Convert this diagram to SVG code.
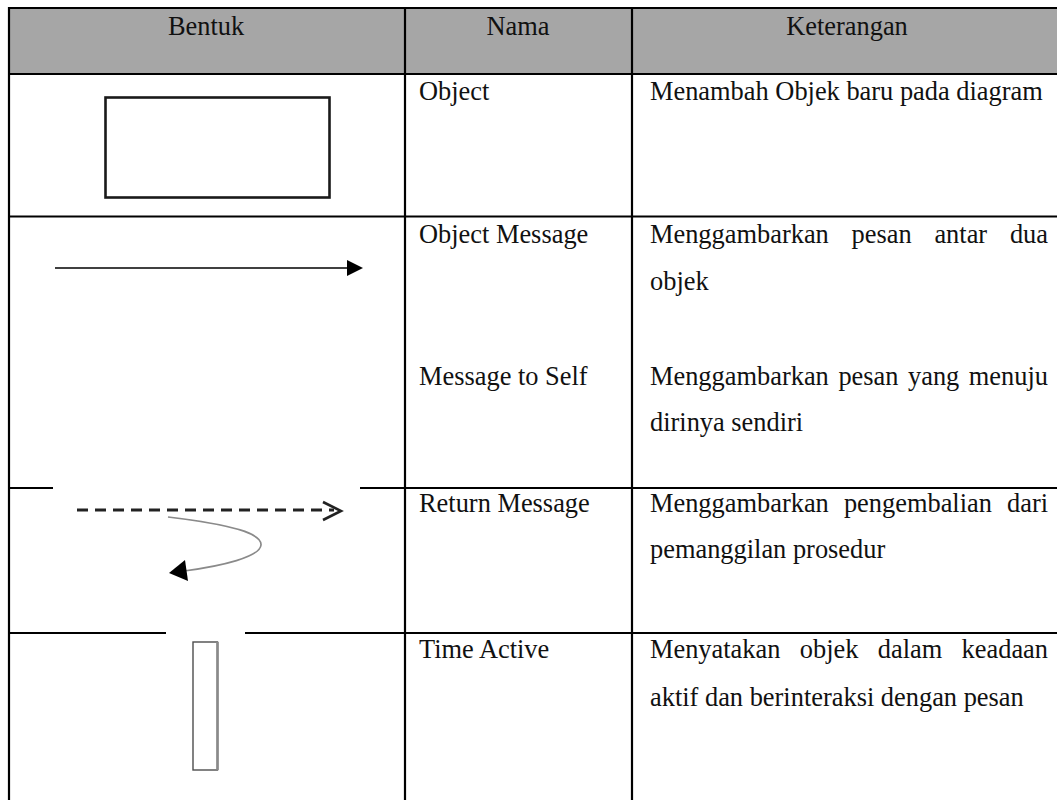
<svg xmlns="http://www.w3.org/2000/svg" width="1057" height="800" viewBox="0 0 1057 800">
  <style>
    .grid { stroke: #000; stroke-width: 2.2; fill: none; }
    .t { font-family: "Liberation Serif", "Times New Roman", serif; font-size: 26.4px; fill: #111; }
    .mid { text-anchor: middle; }
  </style>
  <defs>
    <marker id="solidHead" viewBox="0 0 16 16" refX="0" refY="8" markerWidth="16" markerHeight="16" markerUnits="userSpaceOnUse" orient="auto">
      <path d="M0,0 L16,8 L0,16 Z" fill="#000"/>
    </marker>
  </defs>

  <rect width="1057" height="800" fill="#fff"/>

  <!-- header band -->
  <g id="header">
    <rect x="9" y="8" width="1048" height="66" fill="#a6a6a6"/>
    <text class="t mid" x="206" y="35">Bentuk</text>
    <text class="t mid" x="518" y="35">Nama</text>
    <text class="t mid" x="847" y="35">Keterangan</text>
  </g>

  <!-- table rules -->
  <g id="grid" class="grid">
    <line x1="8" y1="8" x2="1057" y2="8"/>
    <line x1="8" y1="74" x2="1057" y2="74"/>
    <line x1="8" y1="216.5" x2="1057" y2="216.5"/>
    <line x1="8" y1="488" x2="53" y2="488"/>
    <line x1="360" y1="488" x2="1057" y2="488"/>
    <line x1="8" y1="633" x2="166" y2="633"/>
    <line x1="245" y1="633" x2="1057" y2="633"/>
    <line x1="9" y1="7" x2="9" y2="800"/>
    <line x1="405" y1="7" x2="405" y2="800"/>
    <line x1="632" y1="7" x2="632" y2="800"/>
  </g>

  <!-- row: Object -->
  <g id="row-object">
    <rect x="105.5" y="97.5" width="224" height="100" fill="#fff" stroke="#1a1a1a" stroke-width="2.6"/>
    <text class="t" x="419" y="100">Object</text>
    <text class="t" x="650" y="100">Menambah Objek baru pada diagram</text>
  </g>

  <!-- row: Object Message / Message to Self -->
  <g id="row-message">
    <g id="connectors-message">
      <line x1="55" y1="268" x2="347" y2="268" stroke="#000" stroke-width="1.4" marker-end="url(#solidHead)"/>
    </g>
    <text class="t" x="419" y="243">Object Message</text>
    <text class="t" y="243"><tspan x="650">Menggambarkan</tspan><tspan x="851.6">pesan</tspan><tspan x="934.4">antar</tspan><tspan x="1009.9">dua</tspan></text>
    <text class="t" x="650" y="290">objek</text>
    <text class="t" x="419" y="385">Message to Self</text>
    <text class="t" y="385"><tspan x="650">Menggambarkan</tspan><tspan x="838.4">pesan</tspan><tspan x="908">yang</tspan><tspan x="968.8">menuju</tspan></text>
    <text class="t" x="650" y="431">dirinya sendiri</text>
  </g>

  <!-- row: Return Message -->
  <g id="row-return">
    <g id="connectors-return">
      <line x1="77" y1="510" x2="334" y2="510" stroke="#222" stroke-width="3" stroke-dasharray="11 7"/>
      <polyline points="323,502 341,511 323,520" fill="none" stroke="#222" stroke-width="2.6" stroke-linejoin="miter"/>
      <path d="M168,517 C235,525 262,534 261,545 C260,557 222,566 184,571" fill="none" stroke="#8a8a8a" stroke-width="1.7"/>
      <polygon points="169,573 185,560 188,581" fill="#000"/>
    </g>
    <text class="t" x="419" y="512">Return Message</text>
    <text class="t" y="512"><tspan x="650">Menggambarkan</tspan><tspan x="843.9">pengembalian</tspan><tspan x="1007">dari</tspan></text>
    <text class="t" x="650" y="558">pemanggilan prosedur</text>
  </g>

  <!-- row: Time Active -->
  <g id="row-time-active">
    <rect x="193" y="642" width="24.5" height="128" fill="#fff" stroke="#4d4d4d" stroke-width="1.4"/>
    <line x1="217.5" y1="642" x2="217.5" y2="770" stroke="#8a8a8a" stroke-width="2.6"/>
    <text class="t" x="419" y="658">Time Active</text>
    <text class="t" y="658"><tspan x="650">Menyatakan</tspan><tspan x="799.8">objek</tspan><tspan x="877.8">dalam</tspan><tspan x="961.6">keadaan</tspan></text>
    <text class="t" x="650" y="706">aktif dan berinteraksi dengan pesan</text>
  </g>
</svg>
